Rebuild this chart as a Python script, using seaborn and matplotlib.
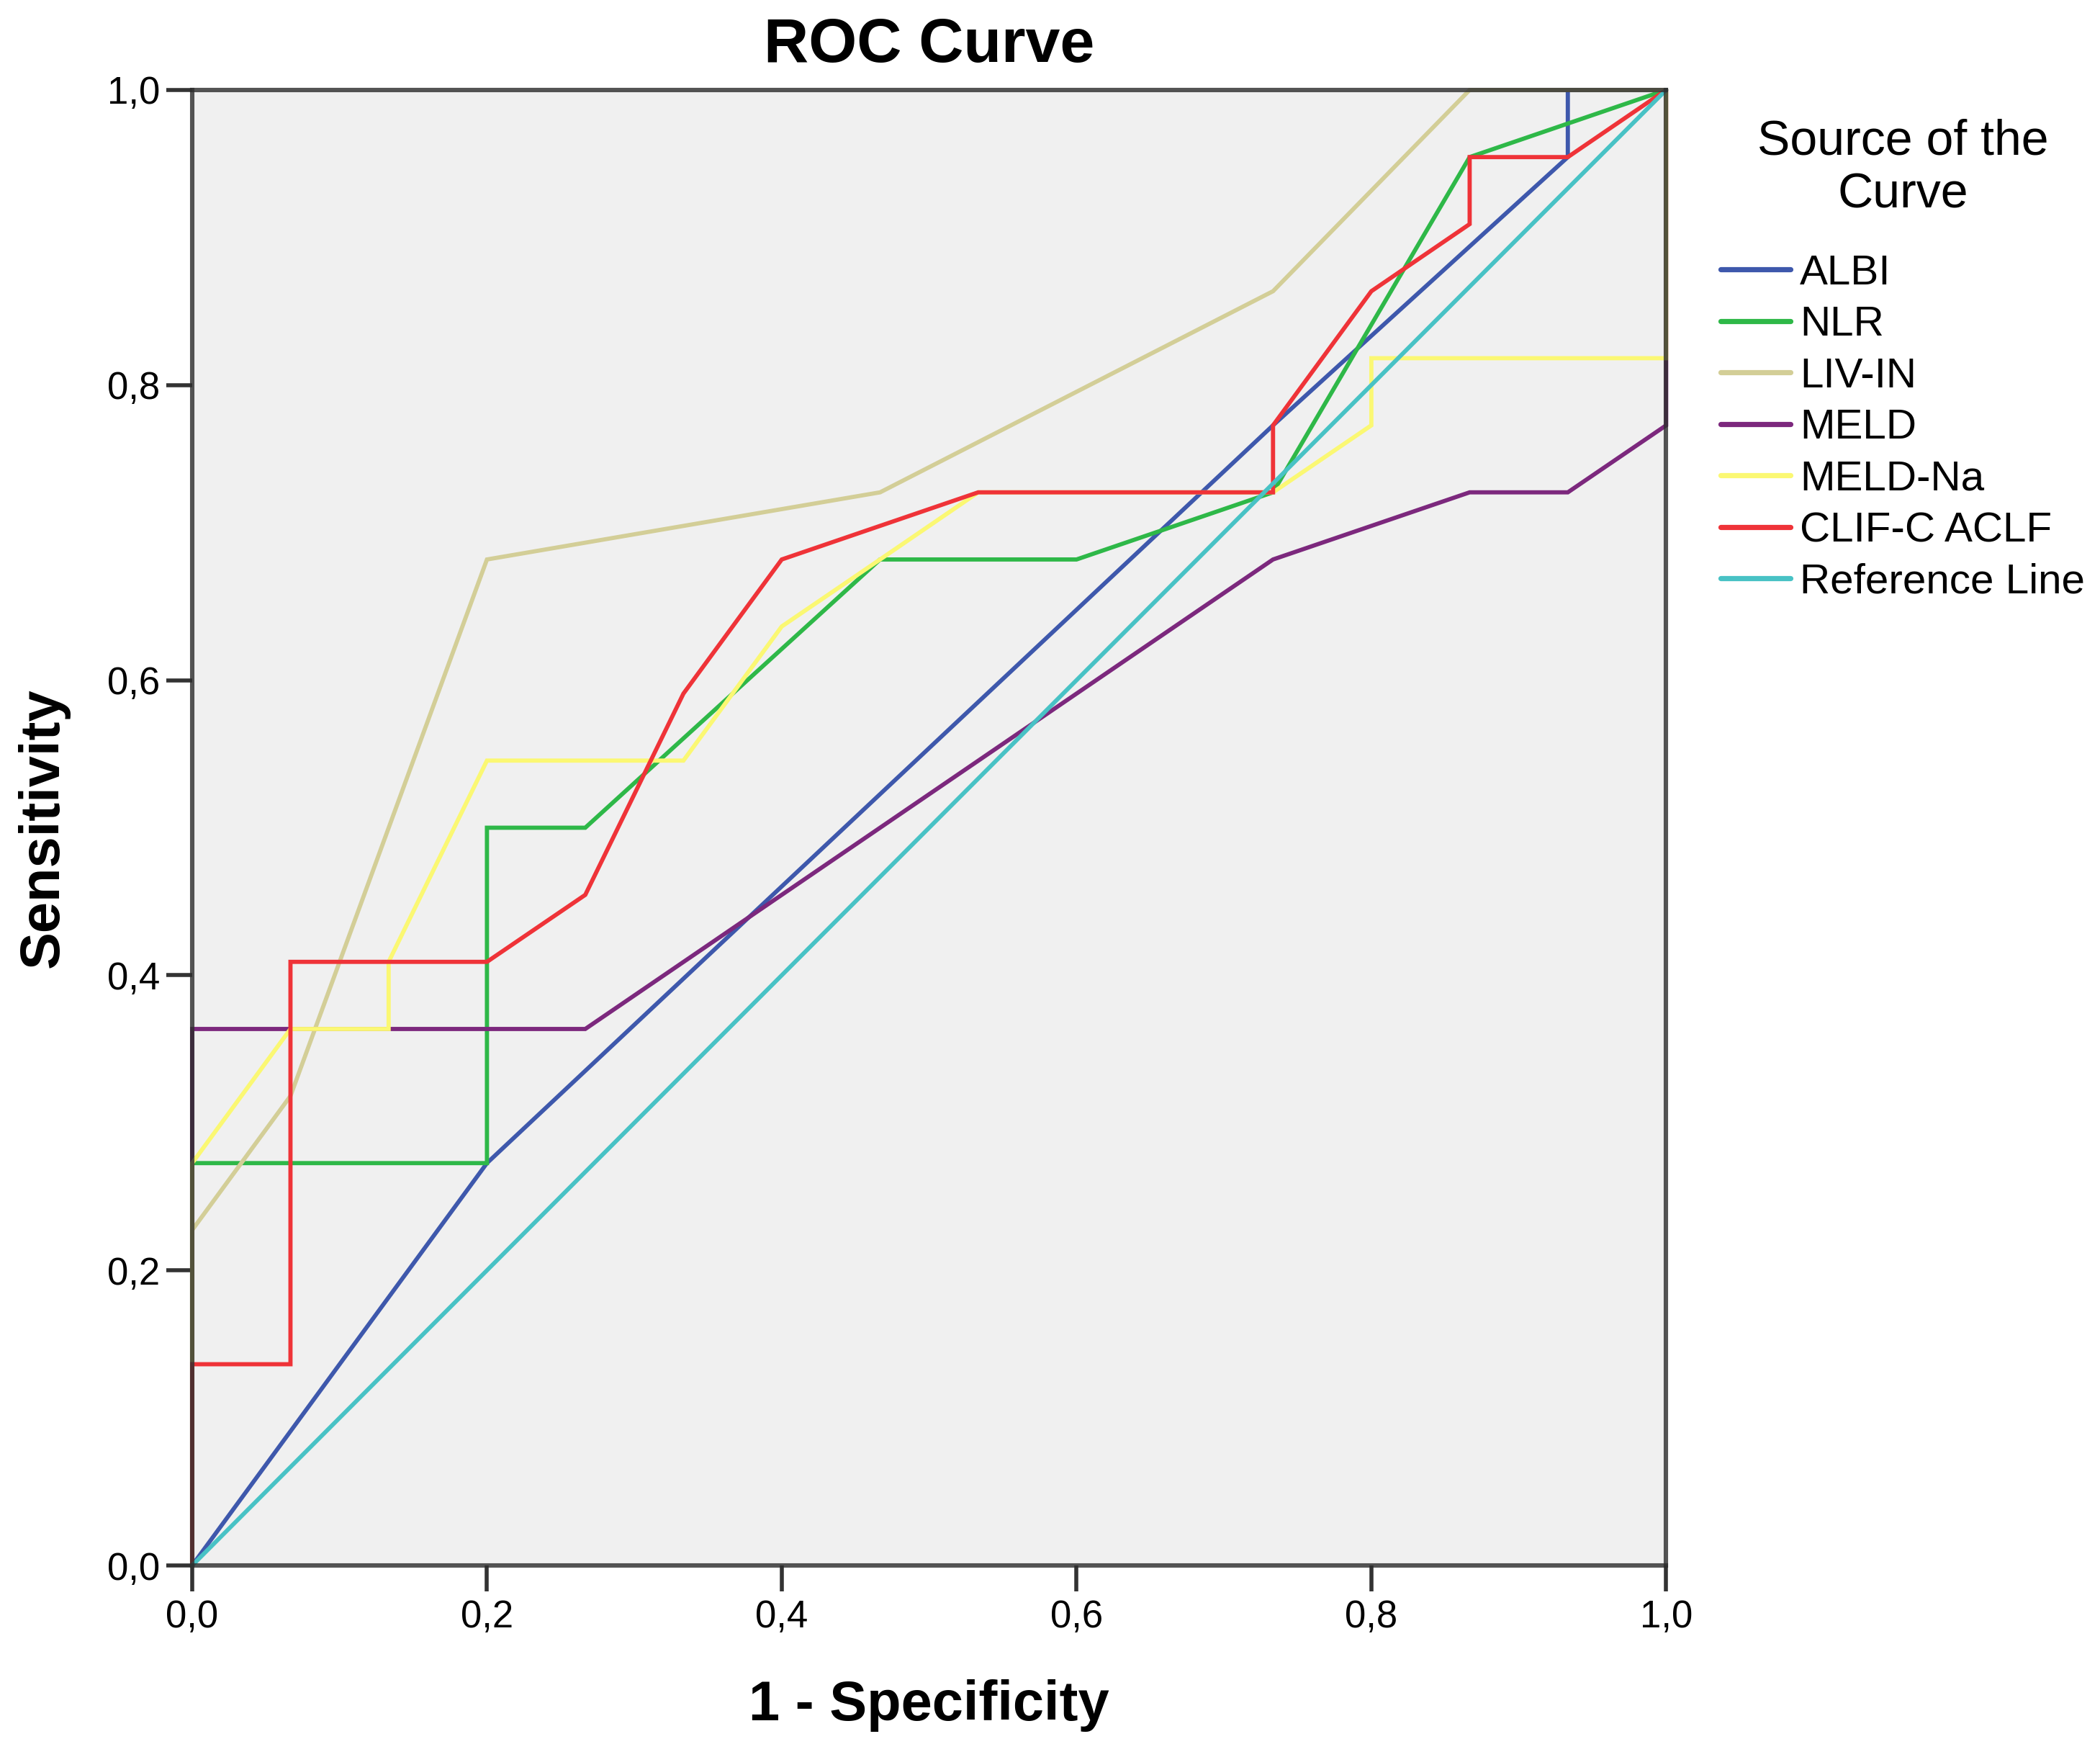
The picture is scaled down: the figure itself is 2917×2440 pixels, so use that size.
import numpy as np
import pandas as pd
import matplotlib
matplotlib.use("Agg")
import matplotlib.pyplot as plt
from matplotlib.lines import Line2D
import seaborn as sns

# ---- data ----
curve_names = ["ALBI", "NLR", "LIV-IN", "MELD", "MELD-Na", "CLIF-C ACLF", "Reference Line"]

albi_x = [0, 0.2, 0.7333, 0.9333, 0.9333, 1.0]
albi_y = [0, 0.2727, 0.7727, 0.9545, 1.0, 1.0]

nlr_x = [0, 0, 0.2, 0.2, 0.2667, 0.4667, 0.6, 0.7333, 0.8667, 1.0]
nlr_y = [0, 0.2727, 0.2727, 0.5, 0.5, 0.6818, 0.6818, 0.7273, 0.9545, 1.0]

livin_x = [0, 0, 0.0667, 0.2, 0.4667, 0.7333, 0.8667, 1.0]
livin_y = [0, 0.2273, 0.3182, 0.6818, 0.7273, 0.8636, 1.0, 1.0]

meld_x = [0, 0, 0.2667, 0.7333, 0.8667, 0.9333, 1.0, 1.0]
meld_y = [0, 0.3636, 0.3636, 0.6818, 0.7273, 0.7273, 0.7727, 1.0]

meldna_x = [0, 0, 0.0667, 0.1333, 0.1333, 0.2, 0.3333, 0.4, 0.4667, 0.5333, 0.7333, 0.8, 0.8, 1.0, 1.0]
meldna_y = [0, 0.2727, 0.3636, 0.3636, 0.4091, 0.5455, 0.5455, 0.6364, 0.6818, 0.7273, 0.7273, 0.7727, 0.8182, 0.8182, 1.0]

clif_x = [0, 0, 0.0667, 0.0667, 0.2, 0.2667, 0.3333, 0.4, 0.5333, 0.7333, 0.7333, 0.8, 0.8667, 0.8667, 0.9333, 1.0]
clif_y = [0, 0.1364, 0.1364, 0.4091, 0.4091, 0.4545, 0.5909, 0.6818, 0.7273, 0.7273, 0.7727, 0.8636, 0.9091, 0.9545, 0.9545, 1.0]

ref_x = [0, 1.0]
ref_y = [0, 1.0]

curve_colors = ["#3E58AC", "#2EB848", "#D3CE97", "#7C287D", "#FBF873", "#EF3338", "#48C2C5"]

tick_values = [0.0, 0.2, 0.4, 0.6, 0.8, 1.0]
tick_labels = ["0,0", "0,2", "0,4", "0,6", "0,8", "1,0"]

# ---- long table ----
xs = [albi_x, nlr_x, livin_x, meld_x, meldna_x, clif_x, ref_x]
ys = [albi_y, nlr_y, livin_y, meld_y, meldna_y, clif_y, ref_y]
frames = []
for name, x, y in zip(curve_names, xs, ys):
    frames.append(pd.DataFrame({"fpr": x, "tpr": y, "curve": name}))
df = pd.concat(frames, ignore_index=True)

sns.set_theme(style="white")
plt.rcParams["font.family"] = ["Liberation Sans", "DejaVu Sans"]
plt.rcParams["text.color"] = "black"
plt.rcParams["axes.labelcolor"] = "black"
plt.rcParams["xtick.color"] = "black"
plt.rcParams["ytick.color"] = "black"

fig = plt.figure(figsize=(14.585, 12.2), dpi=200)
ax = fig.add_axes([0.0915, 0.109, 0.7019, 0.8398])
ax.set_facecolor("#F0F0F0")

palette = dict(zip(curve_names, curve_colors))
sns.lineplot(data=df, x="fpr", y="tpr", hue="curve", hue_order=curve_names,
             palette=palette, sort=False, estimator=None, units="curve",
             linewidth=2.1, legend=False, ax=ax, zorder=3)
for ln in ax.get_lines():
    ln.set_clip_on(False)
    ln.set_solid_joinstyle("miter")

ax.set_xlim(0, 1)
ax.set_ylim(0, 1)
ax.set_xticks(tick_values)
ax.set_xticklabels(tick_labels)
ax.set_yticks(tick_values)
ax.set_yticklabels(tick_labels)
ax.tick_params(axis="both", which="major", direction="out", length=13, width=2,
               color="#333333", labelsize=19, pad=3, labelcolor="black",
               bottom=True, left=True, top=False, right=False)
ax.tick_params(axis="x", pad=4)

for s in ax.spines.values():
    s.set_visible(True)
    s.set_color((0.18, 0.18, 0.18, 0.82))
    s.set_linewidth(2.2)
    s.set_zorder(4)

ax.set_xlabel("1 - Specificity", fontsize=28, fontweight="bold", labelpad=22)
ax.set_ylabel("Sensitivity", fontsize=28, fontweight="bold", labelpad=19)
ax.set_title("ROC Curve", fontsize=31, fontweight="bold", pad=14)

handles = [Line2D([0], [0], color=c, lw=2.6) for c in curve_colors]
leg = fig.legend(handles, curve_names, loc="upper left", bbox_to_anchor=(0.8195, 0.9325),
                 frameon=False, fontsize=21, title="Source of the\nCurve", title_fontsize=24.5,
                 handlelength=1.66, handletextpad=0.22, labelspacing=0.30, borderpad=0,
                 borderaxespad=0, alignment="center")
leg.get_title().set_multialignment("center")
leg._legend_box.sep = 18

fig.savefig("out.png", dpi=200)
